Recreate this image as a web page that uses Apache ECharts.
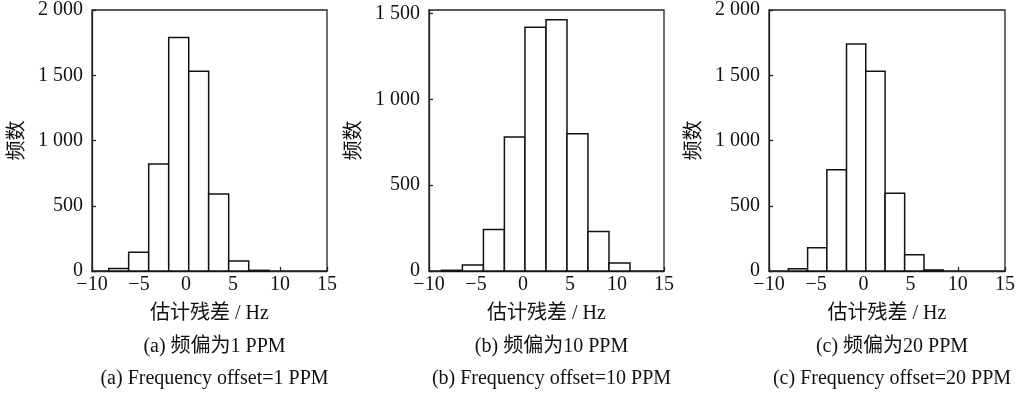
<!DOCTYPE html>
<html>
<head>
<meta charset="utf-8">
<script src="https://cdn.jsdelivr.net/npm/echarts@6/dist/echarts.min.js"></script>
<style>
  html, body { margin: 0; padding: 0; background: #fff; }
  #chart { width: 1022px; height: 393px; }
</style>
</head>
<body>
<div id="chart"></div>
<script>
// bin edges and counts
const edgesA = [-8.22, -6.1, -3.97, -1.84, 0.29, 2.41, 4.54, 6.67, 8.86]
const countsA = [20, 143, 820, 1790, 1530, 590, 77, 5]
const edgesB = [-8.68, -6.45, -4.21, -1.98, 0.21, 2.45, 4.68, 6.91, 9.15, 11.38]
const countsB = [4, 35, 242, 780, 1420, 1463, 800, 230, 46]
const edgesC = [-7.95, -5.91, -3.87, -1.79, 0.25, 2.3, 4.37, 6.42, 8.46]
const countsC = [18, 179, 776, 1740, 1530, 595, 125, 8]

const yMax = [2000, 1520, 2000]
const captionsZh = ['(a) 频偏为1 PPM', '(b) 频偏为10 PPM', '(c) 频偏为20 PPM']
const captionsEn = ['(a) Frequency offset=1 PPM', '(b) Frequency offset=10 PPM', '(c) Frequency offset=20 PPM']

const serif = 'Liberation Serif, Noto Sans CJK SC'
const grids = [
  { left: 92, width: 235 },
  { left: 429, width: 235 },
  { left: 769, width: 236 }
]

const chart = echarts.init(document.getElementById('chart'))

const toBins = (edges, counts) => counts.map((c, i) => [edges[i], edges[i + 1], c])
const hists = [toBins(edgesA, countsA), toBins(edgesB, countsB), toBins(edgesC, countsC)]

const txt = { fontFamily: serif, fontSize: 20, fontWeight: 'normal', color: '#111' }

const option = {
  backgroundColor: '#fff',
  animation: false,
  textStyle: { fontFamily: serif },
  grid: grids.map(g => ({
    left: g.left, width: g.width, top: 10, bottom: 122,
    show: true, borderColor: '#222', borderWidth: 1.3, backgroundColor: 'transparent'
  })),
  title: grids.flatMap((g, i) => [
    { text: captionsZh[i], left: g.left + g.width / 2, top: 332, textAlign: 'center', textStyle: txt },
    { text: captionsEn[i], left: g.left + g.width / 2, top: 364, textAlign: 'center', textStyle: txt }
  ]),
  xAxis: grids.map((g, i) => ({
    type: 'value', gridIndex: i, min: -10, max: 15, interval: 5,
    name: '估计残差 / Hz', nameLocation: 'middle', nameGap: 33,
    nameTextStyle: txt,
    axisLine: { show: true, onZero: false, lineStyle: { color: '#222', width: 1.3 } },
    axisTick: { show: true, inside: true, length: 4, lineStyle: { color: '#222', width: 1.3 } },
    axisLabel: {
      fontFamily: serif, fontSize: 20, color: '#111', margin: 4,
      formatter: v => (v < 0 ? '\u2212' + Math.abs(v) : String(v))
    },
    splitLine: { show: false }
  })),
  yAxis: grids.map((g, i) => ({
    type: 'value', gridIndex: i, min: 0, max: yMax[i], interval: 500,
    name: '频数', nameLocation: 'middle', nameGap: 64, nameRotate: 90,
    nameTextStyle: txt,
    axisLine: { show: true, onZero: false, lineStyle: { color: '#222', width: 1.3 } },
    axisTick: { show: true, inside: true, length: 4, lineStyle: { color: '#222', width: 1.3 } },
    axisLabel: {
      fontFamily: serif, fontSize: 20, color: '#111', margin: 9, showMaxLabel: i !== 1,
      formatter: v => (v >= 1000 ? Math.floor(v / 1000) + ' ' + String(v % 1000).padStart(3, '0') : String(v))
    },
    splitLine: { show: false }
  })),
  series: hists.map((data, i) => ({
    type: 'custom',
    xAxisIndex: i,
    yAxisIndex: i,
    data,
    encode: { x: [0, 1], y: 2 },
    renderItem: (params, api) => {
      const p0 = api.coord([api.value(0), 0])
      const p1 = api.coord([api.value(1), api.value(2)])
      return {
        type: 'rect',
        shape: { x: p0[0], y: p1[1], width: p1[0] - p0[0], height: p0[1] - p1[1] },
        style: { fill: '#fff', stroke: '#111', lineWidth: 1.5 }
      }
    }
  }))
}

chart.setOption(option)
</script>
</body>
</html>
